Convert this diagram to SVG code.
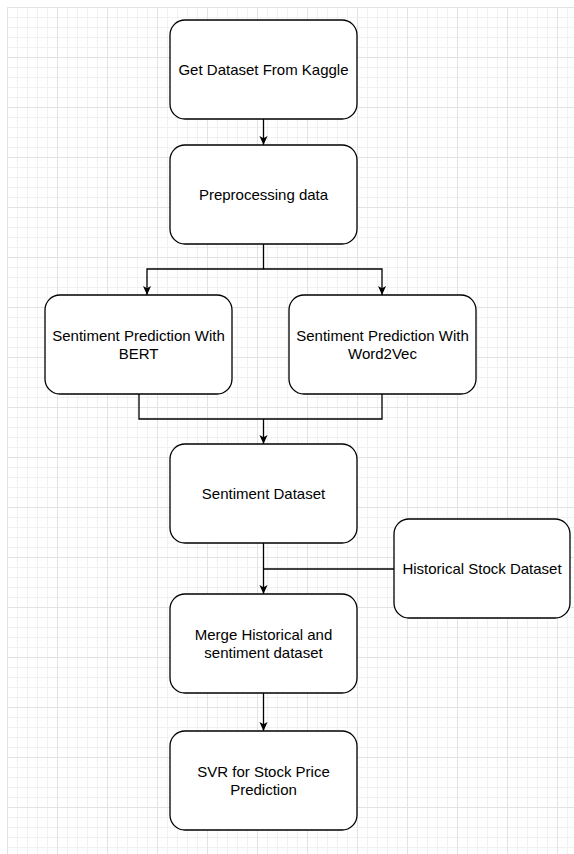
<svg xmlns="http://www.w3.org/2000/svg" width="574" height="854" viewBox="0 0 574 854">
<style>
.node rect{fill:#fff;stroke:#000;stroke-width:1.3}
.node text{font-family:"Liberation Sans",Arial,sans-serif;font-size:15px;fill:#000;text-anchor:middle}
.conn path{fill:none;stroke:#000;stroke-width:1.3}
</style>
<defs>
<pattern id="minor" x="7" y="7" width="10" height="10" patternUnits="userSpaceOnUse">
<path d="M0,0.5 H10 M0.5,0 V10" stroke="#f1f1f1" stroke-width="1" fill="none"/>
</pattern>
<pattern id="major" x="7" y="7" width="50" height="50" patternUnits="userSpaceOnUse">
<path d="M0,0.5 H50 M0.5,0 V50" stroke="#e3e3e3" stroke-width="1" fill="none"/>
</pattern>
<marker id="arr" viewBox="0 0 10 10" refX="10" refY="5" markerWidth="9" markerHeight="9" markerUnits="userSpaceOnUse" orient="auto">
<path d="M0,0.5 L10,5 L0,9.5 L2.5,5 Z" fill="#000"/>
</marker>
</defs>
<rect width="574" height="854" fill="#fff"/>
<rect x="7" y="7" width="567" height="847" fill="url(#minor)"/>
<rect x="7" y="7" width="567" height="847" fill="url(#major)"/>

<g class="conn" id="connectors">
<path d="M263.5,119 V145" marker-end="url(#arr)"/>
<path d="M263.5,244 V269 H147 V295" marker-end="url(#arr)"/>
<path d="M263.5,269 H382 V295" marker-end="url(#arr)"/>
<path d="M139,394 V419 H382 V394"/>
<path d="M263.5,419 V444" marker-end="url(#arr)"/>
<path d="M263.5,543 V594" marker-end="url(#arr)"/>
<path d="M394,569 H263.5"/>
<path d="M263.5,693 V731" marker-end="url(#arr)"/>
</g>

<g class="node" id="kaggle">
<rect x="170" y="20" width="187" height="99" rx="15" ry="15"/>
<text x="263.5" y="75">Get Dataset From Kaggle</text>
</g>
<g class="node" id="preprocessing">
<rect x="170" y="145" width="187" height="99" rx="15" ry="15"/>
<text x="263.5" y="200">Preprocessing data</text>
</g>
<g class="node" id="bert">
<rect x="45" y="295" width="187" height="99" rx="15" ry="15"/>
<text x="138.5" y="341">Sentiment Prediction With</text>
<text x="138.5" y="358.5">BERT</text>
</g>
<g class="node" id="word2vec">
<rect x="289" y="295" width="187" height="99" rx="15" ry="15"/>
<text x="382.5" y="341">Sentiment Prediction With</text>
<text x="382.5" y="358.5">Word2Vec</text>
</g>
<g class="node" id="sentiment">
<rect x="170" y="444" width="187" height="99" rx="15" ry="15"/>
<text x="263.5" y="499">Sentiment Dataset</text>
</g>
<g class="node" id="historical">
<rect x="394" y="519" width="176" height="99" rx="15" ry="15"/>
<text x="482" y="574">Historical Stock Dataset</text>
</g>
<g class="node" id="merge">
<rect x="170" y="594" width="187" height="99" rx="15" ry="15"/>
<text x="263.5" y="640">Merge Historical and</text>
<text x="263.5" y="657.5">sentiment dataset</text>
</g>
<g class="node" id="svr">
<rect x="170" y="731" width="187" height="99" rx="15" ry="15"/>
<text x="263.5" y="777">SVR for Stock Price</text>
<text x="263.5" y="794.5">Prediction</text>
</g>
</svg>
